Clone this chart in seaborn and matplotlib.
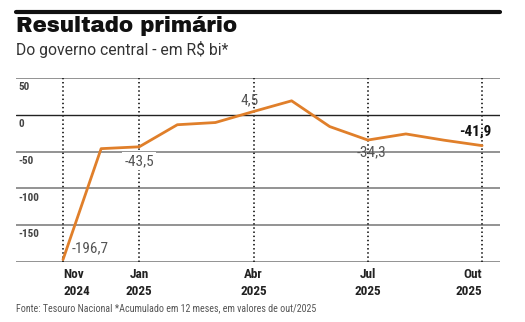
import matplotlib
matplotlib.use("Agg")
import matplotlib.pyplot as plt
import seaborn as sns
import pandas as pd
from matplotlib.lines import Line2D

# Monthly primary result, 12-month accumulated (R$ bi)
months = ["Nov 2024", "Dez 2024", "Jan 2025", "Fev 2025", "Mar 2025", "Abr 2025",
          "Mai 2025", "Jun 2025", "Jul 2025", "Ago 2025", "Set 2025", "Out 2025"]
values = [-196.7, -46.0, -43.5, -13.5, -10.5, 4.5, 19.0, -16.0, -34.3, -26.0, -34.5, -41.9]

tick_idx = [0, 2, 5, 8, 11]
tick_labels = ["Nov\n2024", "Jan\n2025", "Abr\n2025", "Jul\n2025", "Out\n2025"]
y_ticks = [50, 0, -50, -100, -150]
y_grid = [50, 0, -50, -100, -150, -200]

# Labelled points: index -> (text, offset x px, offset y px, ha, bold, white box)
point_labels = {
    0: ("-196,7", 9, 11, "left", False, False),
    2: ("-43,5", 0, -14, "center", False, True),
    5: ("4,5", 5, 11, "right", False, False),
    8: ("-34,3", 4, -12, "center", False, False),
    11: ("-41,9", -7, 14, "center", True, False),
}

df = pd.DataFrame({"x": range(len(values)), "valor": values})

sns.set_theme(style="white")
BODY = ["Roboto Condensed", "DejaVu Sans"]
TITLE = ["Archivo Black", "Roboto", "DejaVu Sans"]
SUB = ["Roboto", "DejaVu Sans"]
plt.rcParams["font.family"] = BODY

W, H = 525, 322
fig = plt.figure(figsize=(W / 100, H / 100), dpi=100)
fig.patch.set_facecolor("white")

ax = fig.add_axes([16 / W, (H - 262) / H, (500 - 16) / W, (262 - 78) / H])
ax.set_facecolor("white")

# Horizontal gridlines, zero line darker
for g in y_grid:
    ax.axhline(g, color="#222222" if g == 0 else "#808080",
               lw=1.0 if g == 0 else 1.2, zorder=1)

# Dotted vertical guides at labelled months
for i in tick_idx:
    ax.axvline(i, color="#222222", lw=1.3, ls=(0, (0.8, 1.5)), zorder=1)

sns.lineplot(data=df, x="x", y="valor", ax=ax, color="#E07F2A", lw=2.0, zorder=3)

x_left = -1.234
x_right = 11.47
ax.set_xlim(x_left, x_right)
ax.set_ylim(-200, 50)
for s in ax.spines.values():
    s.set_visible(False)

ax.set_ylabel("")
ax.set_xlabel("")
ax.set_yticks([])
ax.set_xticks(tick_idx)
ax.set_xticklabels(tick_labels, fontweight="bold", fontsize=9.5, color="#222222",
                   linespacing=1.45)
ax.tick_params(axis="x", length=0, pad=4)
xt = ax.get_xticklabels()
xt[0].set_ha("left")
xt[-1].set_ha("right")

# Y tick labels sit just under each gridline, inside the plot
for v in y_ticks:
    ax.annotate(str(v), xy=(x_left, v), xytext=(1.5, -3), textcoords="offset points",
                ha="left", va="top", fontsize=8, fontweight="bold", color="#444444")

for i, (txt, dx, dy, ha, bold, box) in point_labels.items():
    ax.annotate(txt, xy=(i, values[i]), xytext=(dx, dy), textcoords="offset pixels",
                ha=ha, va="center", fontsize=11,
                fontweight="bold" if bold else "normal",
                color="#111111" if bold else "#555555", zorder=4,
                bbox=dict(boxstyle="square,pad=0.15", fc="white", ec="none") if box else None)


def fit_width(t, width_px):
    """Rescale a text's font size so that it spans width_px pixels."""
    r = fig.canvas.get_renderer()
    w = t.get_window_extent(renderer=r).width
    t.set_fontsize(t.get_fontsize() * width_px / w)


# Header
fig.add_artist(Line2D([16 / W, 500 / W], [1 - 11.5 / H, 1 - 11.5 / H],
                      color="#111111", lw=3.0, transform=fig.transFigure))
title = fig.text(16 / W, 1 - 31.5 / H, "Resultado primário", ha="left", va="baseline",
                 fontsize=13, color="#111111", family=TITLE)
subtitle = fig.text(16 / W, 1 - 55.5 / H, "Do governo central - em R$ bi*", ha="left",
                    va="baseline", fontsize=10, color="#333333", family=SUB)
footer = fig.text(16 / W, 1 - 311 / H,
                  "Fonte: Tesouro Nacional *Acumulado em 12 meses, em valores de out/2025",
                  ha="left", va="baseline", fontsize=7.5, color="#555555")
fit_width(title, 222)
fit_width(subtitle, 213)
fit_width(footer, 301)

fig.savefig("out.png", dpi=100, facecolor="white")
